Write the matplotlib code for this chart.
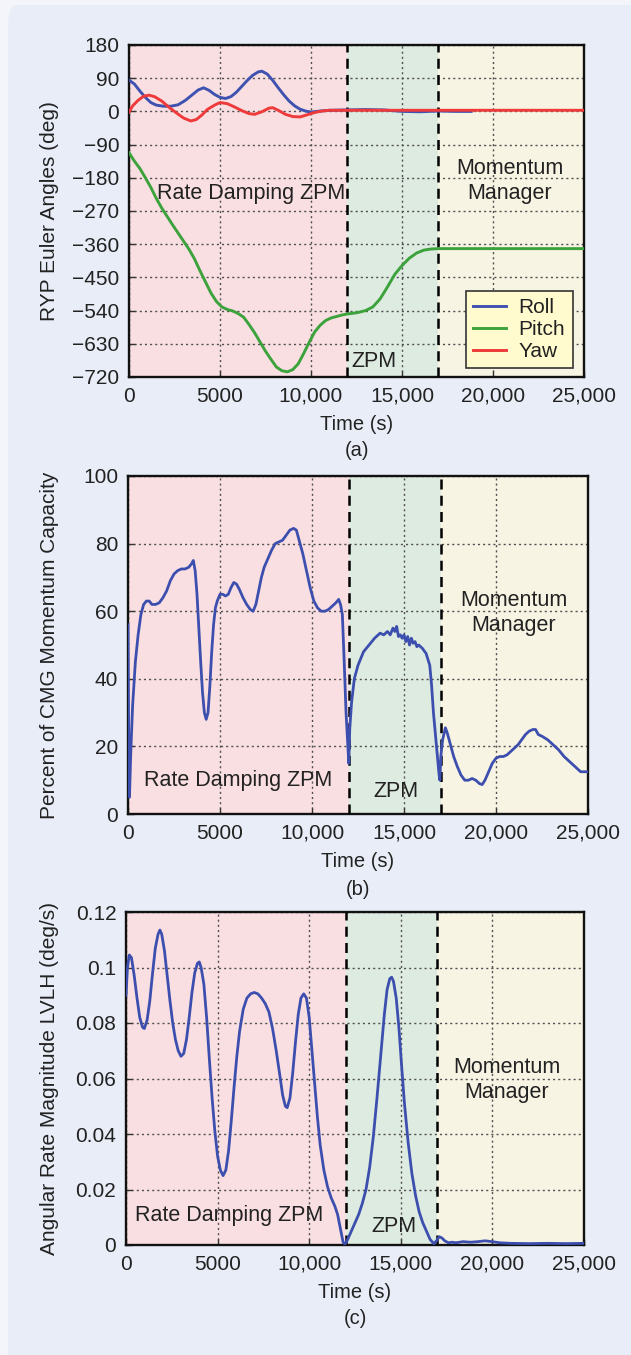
import matplotlib
matplotlib.use("Agg")
import matplotlib.pyplot as plt
from matplotlib.patches import FancyBboxPatch

plt.rcParams["font.family"] = ["Liberation Sans", "DejaVu Sans"]
plt.rcParams["axes.unicode_minus"] = True

# ---------------- data ----------------
x_ticks = [0, 5000, 10000, 15000, 20000, 25000]
x_tick_labels = ["0", "5000", "10,000", "15,000", "20,000", "25,000"]
phase_bounds = [0, 12000, 17000, 25000]
phase_colors = ["#F9DFE2", "#DEEBE1", "#F8F4E3"]

# (a) Euler angles
roll_t = [0, 300, 600, 900, 1200, 1500, 1900, 2300, 2700, 3100, 3500, 3800, 4100,
          4400, 4700, 5000, 5300, 5600, 5900, 6200, 6500, 6800, 7100, 7300, 7600,
          7900, 8200, 8500, 8800, 9100, 9400, 9700, 10000, 10500, 11000, 12000,
          13000, 14000, 15000, 16000, 17000, 18000, 18800]
roll_v = [85, 74, 55, 38, 24, 17, 14, 14, 18, 30, 46, 58, 64, 57, 46, 38, 35, 40,
          52, 68, 84, 98, 107, 109, 101, 84, 64, 45, 28, 15, 6, 1, -2, 1, 3, 4,
          5, 4, 0, -1, 1, 0, 0]
pitch_t = [0, 300, 600, 900, 1200, 1500, 1800, 2100, 2400, 2700, 3000, 3300, 3600,
           3900, 4200, 4500, 4800, 5100, 5400, 5700, 6000, 6300, 6600, 6900, 7200,
           7500, 7800, 8100, 8400, 8700, 9000, 9300, 9600, 9900, 10200, 10500,
           10800, 11100, 11400, 11700, 12000, 12500, 13000, 13400, 13800, 14200,
           14600, 15000, 15400, 15800, 16200, 16600, 17000, 25000]
pitch_v = [-112, -135, -155, -180, -206, -236, -262, -285, -308, -330, -352, -374,
           -400, -432, -462, -492, -515, -530, -537, -541, -548, -558, -578, -600,
           -625, -650, -672, -693, -703, -706, -700, -684, -656, -626, -598, -580,
           -567, -560, -556, -552, -549, -546, -540, -530, -508, -476, -442, -418,
           -398, -384, -376, -373, -372, -372]
yaw_t = [0, 200, 500, 800, 1100, 1400, 1800, 2200, 2600, 3000, 3400, 3700, 4000,
         4300, 4700, 5000, 5400, 5800, 6200, 6600, 6900, 7300, 7700, 7900, 8200,
         8600, 9000, 9400, 9800, 10200, 10600, 11000, 25000]
yaw_v = [-2, 15, 30, 41, 44, 40, 28, 11, -4, -18, -26, -22, -10, 5, 17, 24, 21,
         12, 2, -6, -8, -1, 9, 10, 3, -8, -14, -15, -9, -3, 1, 3, 3]
angle_ticks = [180, 90, 0, -90, -180, -270, -360, -450, -540, -630, -720]

# (b) CMG momentum capacity (%)
cmg_t = [0, 40, 80, 150, 250, 400, 550, 700, 850, 1000, 1150, 1300, 1500, 1700,
         1900, 2100, 2300, 2500, 2700, 2900, 3100, 3300, 3450, 3550, 3650, 3750,
         3850, 3950, 4050, 4150, 4250, 4350, 4450, 4550, 4650, 4750, 4850, 5000,
         5150, 5300, 5450, 5600, 5750, 5900, 6050, 6250, 6450, 6650, 6800, 6950,
         7100, 7250, 7400, 7600, 7800, 8000, 8200, 8400, 8600, 8800, 9000, 9150,
         9300, 9500, 9700, 9900, 10100, 10300, 10500, 10700, 10900, 11100, 11300,
         11450, 11550, 11650, 11750, 11850, 11950, 12000, 12050, 12150, 12300,
         12500, 12800, 13100, 13400, 13700, 13900, 14100, 14250, 14400, 14500,
         14600, 14700, 14800, 14900, 15000, 15100, 15200, 15300, 15400, 15500,
         15600, 15700, 15800, 16000, 16200, 16400, 16500, 16600, 16700, 16800,
         16900, 16950, 17000, 17100, 17250, 17350, 17500, 17700, 17900, 18100,
         18300, 18500, 18700, 18900, 19100, 19250, 19400, 19600, 19800, 20000,
         20200, 20400, 20600, 20800, 21000, 21200, 21400, 21600, 21800, 22000,
         22150, 22300, 22500, 22800, 23100, 23400, 23700, 24000, 24300, 24600,
         25000]
cmg_v = [56, 20, 5, 18, 32, 45, 53, 59, 62, 63, 63, 62, 62, 62.5, 64, 66, 69, 71,
         72, 72.5, 72.5, 73, 74, 75, 72, 65, 55, 45, 36, 30, 28, 30, 38, 48, 56,
         61, 63, 65, 65, 64.5, 65, 67, 68.5, 68, 66.5, 64, 62, 60.5, 60, 62, 66,
         70, 73, 75.5, 78, 80, 80.5, 81, 82.5, 84, 84.5, 84, 81, 77, 72, 67, 63,
         61, 60, 60, 60.5, 61.5, 62.5, 63.5, 62, 59, 45, 30, 20, 15, 25, 33, 40,
         44, 48, 50, 52, 53.5, 53, 54, 53, 55, 54, 55.5, 52.5, 53, 52, 53, 51,
         52.5, 50, 52, 50.5, 51, 49.5, 50, 49, 47.5, 44, 38, 30, 24, 18, 12, 10,
         17, 22, 25.5, 24, 21, 17, 14, 11.5, 10, 10, 10.5, 10, 9, 8.7, 10, 12.5,
         15, 16.5, 17, 17, 17.5, 18.5, 19.5, 20.5, 22, 23.5, 24.5, 25, 25, 23.5,
         23, 22, 20.5, 19, 17, 15.5, 14, 12.5, 12.5]
cmg_ticks = [0, 20, 40, 60, 80, 100]

# (c) angular rate magnitude (deg/s)
rate_t = [0, 80, 180, 300, 450, 600, 750, 900, 1000, 1150, 1300, 1450, 1600, 1750,
          1850, 1950, 2100, 2250, 2400, 2550, 2700, 2850, 3000, 3150, 3300, 3450,
          3600, 3750, 3900, 4000, 4100, 4250, 4400, 4550, 4700, 4850, 5000, 5150,
          5300, 5450, 5600, 5750, 5900, 6050, 6200, 6400, 6600, 6800, 7000, 7200,
          7400, 7600, 7800, 8000, 8200, 8400, 8550, 8700, 8800, 8950, 9100, 9250,
          9400, 9550, 9700, 9850, 10000, 10150, 10300, 10450, 10600, 10800, 11000,
          11200, 11400, 11550, 11700, 11850, 11950, 12100, 12300, 12500, 12700,
          12900, 13100, 13300, 13500, 13700, 13900, 14100, 14250, 14400, 14500,
          14600, 14750, 14900, 15050, 15200, 15400, 15600, 15800, 16000, 16200,
          16400, 16600, 16800, 16950, 17100, 17250, 17400, 17600, 17800, 18000,
          18400, 18800, 19200, 19600, 20000, 20400, 21000, 22000, 23000, 24000,
          25000]
rate_v = [0.090, 0.100, 0.1045, 0.1035, 0.097, 0.089, 0.082, 0.0785, 0.078, 0.081,
          0.088, 0.098, 0.107, 0.112, 0.1135, 0.112, 0.106, 0.097, 0.088, 0.080,
          0.074, 0.070, 0.068, 0.069, 0.074, 0.082, 0.091, 0.098, 0.1015, 0.102,
          0.100, 0.094, 0.082, 0.067, 0.053, 0.041, 0.032, 0.027, 0.025, 0.027,
          0.034, 0.045, 0.057, 0.068, 0.077, 0.085, 0.089, 0.0905, 0.091, 0.0905,
          0.089, 0.087, 0.084, 0.078, 0.070, 0.061, 0.054, 0.050, 0.0495, 0.053,
          0.062, 0.073, 0.083, 0.089, 0.0905, 0.089, 0.082, 0.070, 0.058, 0.046,
          0.036, 0.027, 0.021, 0.017, 0.014, 0.011, 0.006, 0.001, 0.0003, 0.002,
          0.005, 0.008, 0.011, 0.015, 0.020, 0.028, 0.039, 0.053, 0.068, 0.083,
          0.092, 0.096, 0.0965, 0.095, 0.089, 0.078, 0.064, 0.051, 0.037, 0.026,
          0.018, 0.012, 0.008, 0.005, 0.002, 0.0005, 0.0015, 0.003, 0.0025, 0.0015,
          0.0008, 0.001, 0.0008, 0.0012, 0.001, 0.0012, 0.0015, 0.0012, 0.0008,
          0.0006, 0.0005, 0.0006, 0.0005, 0.0006]
rate_ticks = [0, 0.02, 0.04, 0.06, 0.08, 0.1, 0.12]
rate_tick_labels = ["0", "0.02", "0.04", "0.06", "0.08", "0.1", "0.12"]

# ---------------- figure ----------------
W, H = 631, 1355
fig = plt.figure(figsize=(W / 100, H / 100), dpi=100)
fig.patch.set_facecolor("#F3F5FA")
panel = FancyBboxPatch((8 / W, -0.02), (W + 20) / W, 1.02 - 5 / H,
                       boxstyle="round,pad=0,rounding_size=0.015",
                       transform=fig.transFigure, facecolor="#E8EDF7",
                       edgecolor="none", zorder=-10)
fig.patches.append(panel)

TXT = "#222222"
FS = 15
FS_NOTE = 15.5
BLUE = "#3D4FAE"


def px_axes(left, right, top, bottom):
    return fig.add_axes([left / W, 1 - bottom / H, (right - left) / W, (bottom - top) / H])


def style(ax, ylim, yticks, ylabels, ylabel, tag, label_x):
    for (a, b), c in zip(zip(phase_bounds[:-1], phase_bounds[1:]), phase_colors):
        ax.axvspan(a, b, color=c, zorder=0, lw=0)
    for xb in phase_bounds[1:-1]:
        ax.axvline(xb, color="black", lw=1.8, dashes=(4, 2.5), zorder=3)
    ax.set_xlim(0, 25000)
    ax.set_ylim(*ylim)
    ax.set_xticks(x_ticks)
    ax.set_xticklabels(x_tick_labels)
    ax.set_yticks(yticks)
    ax.set_yticklabels(ylabels)
    ax.grid(True, color="#505050", lw=1.0, dashes=(1.5, 2.2), zorder=1)
    ax.set_axisbelow(True)
    ax.tick_params(direction="in", length=4, width=1, colors="#333333",
                   labelcolor=TXT, labelsize=FS, pad=7)
    for s in ax.spines.values():
        s.set_color("#111111")
        s.set_linewidth(1.7)
    ax.set_xlabel("Time (s)", fontsize=14.5, color=TXT, labelpad=7)
    ax.set_ylabel(ylabel, fontsize=FS, color=TXT)
    ax.yaxis.set_label_coords(label_x, 0.5)
    ax.text(0.5, -0.222, tag, transform=ax.transAxes, ha="center", va="center",
            fontsize=14.5, color=TXT)


# (a)
ax1 = px_axes(129, 584, 45, 377)
style(ax1, (-720, 180), angle_ticks, [f"{v}".replace("-", "\u2212") for v in angle_ticks],
      "RYP Euler Angles (deg)", "(a)", -0.154)
ax1.plot(roll_t, roll_v, color="#3F52B0", lw=2.1, label="Roll", zorder=4)
ax1.plot(pitch_t, pitch_v, color="#3CA23C", lw=2.1, label="Pitch", zorder=4)
ax1.plot(yaw_t, yaw_v, color="#EE3A3A", lw=2.1, label="Yaw", zorder=5)
ax1.text(6700, -222, "Rate Damping ZPM", ha="center", va="center", fontsize=FS_NOTE, color=TXT, zorder=6)
ax1.text(12200, -678, "ZPM", ha="left", va="center", fontsize=FS_NOTE, color=TXT, zorder=6)
ax1.text(20900, -190, "Momentum\nManager", ha="center", va="center", fontsize=FS_NOTE,
         color=TXT, linespacing=1.25, zorder=6)
leg = ax1.legend(loc="lower right", bbox_to_anchor=(0.975, 0.026), borderaxespad=0,
                 fontsize=FS, frameon=True, fancybox=False, handlelength=1.6,
                 handletextpad=0.6, labelspacing=0.15, borderpad=0.35)
leg.get_frame().set_facecolor("#FFFBCF")
leg.get_frame().set_edgecolor("#333333")
leg.get_frame().set_linewidth(1.2)
leg.get_frame().set_alpha(1)
leg.set_zorder(7)
for t in leg.get_texts():
    t.set_color(TXT)

# (b)
ax2 = px_axes(128, 588, 476, 814)
style(ax2, (0, 100), cmg_ticks, [str(v) for v in cmg_ticks],
      "Percent of CMG Momentum Capacity", "(b)", -0.15)
ax2.plot(cmg_t, cmg_v, color=BLUE, lw=2.0, zorder=4)
ax2.text(6000, 10, "Rate Damping ZPM", ha="center", va="center", fontsize=FS_NOTE, color=TXT, zorder=6)
ax2.text(14550, 6.7, "ZPM", ha="center", va="center", fontsize=FS_NOTE, color=TXT, zorder=6)
ax2.text(20950, 59.5, "Momentum\nManager", ha="center", va="center", fontsize=FS_NOTE,
         color=TXT, linespacing=1.25, zorder=6)

# (c)
ax3 = px_axes(126, 584, 912, 1245)
style(ax3, (0, 0.12), rate_ticks, rate_tick_labels,
      "Angular Rate Magnitude LVLH (deg/s)", "(c)", -0.146)
ax3.plot(rate_t, rate_v, color=BLUE, lw=2.0, zorder=4)
ax3.text(5650, 0.0108, "Rate Damping ZPM", ha="center", va="center", fontsize=FS_NOTE, color=TXT, zorder=6)
ax3.text(14640, 0.0066, "ZPM", ha="center", va="center", fontsize=FS_NOTE, color=TXT, zorder=6)
ax3.text(20780, 0.0594, "Momentum\nManager", ha="center", va="center", fontsize=FS_NOTE,
         color=TXT, linespacing=1.25, zorder=6)

fig.savefig("out.png", dpi=100, facecolor=fig.get_facecolor())
